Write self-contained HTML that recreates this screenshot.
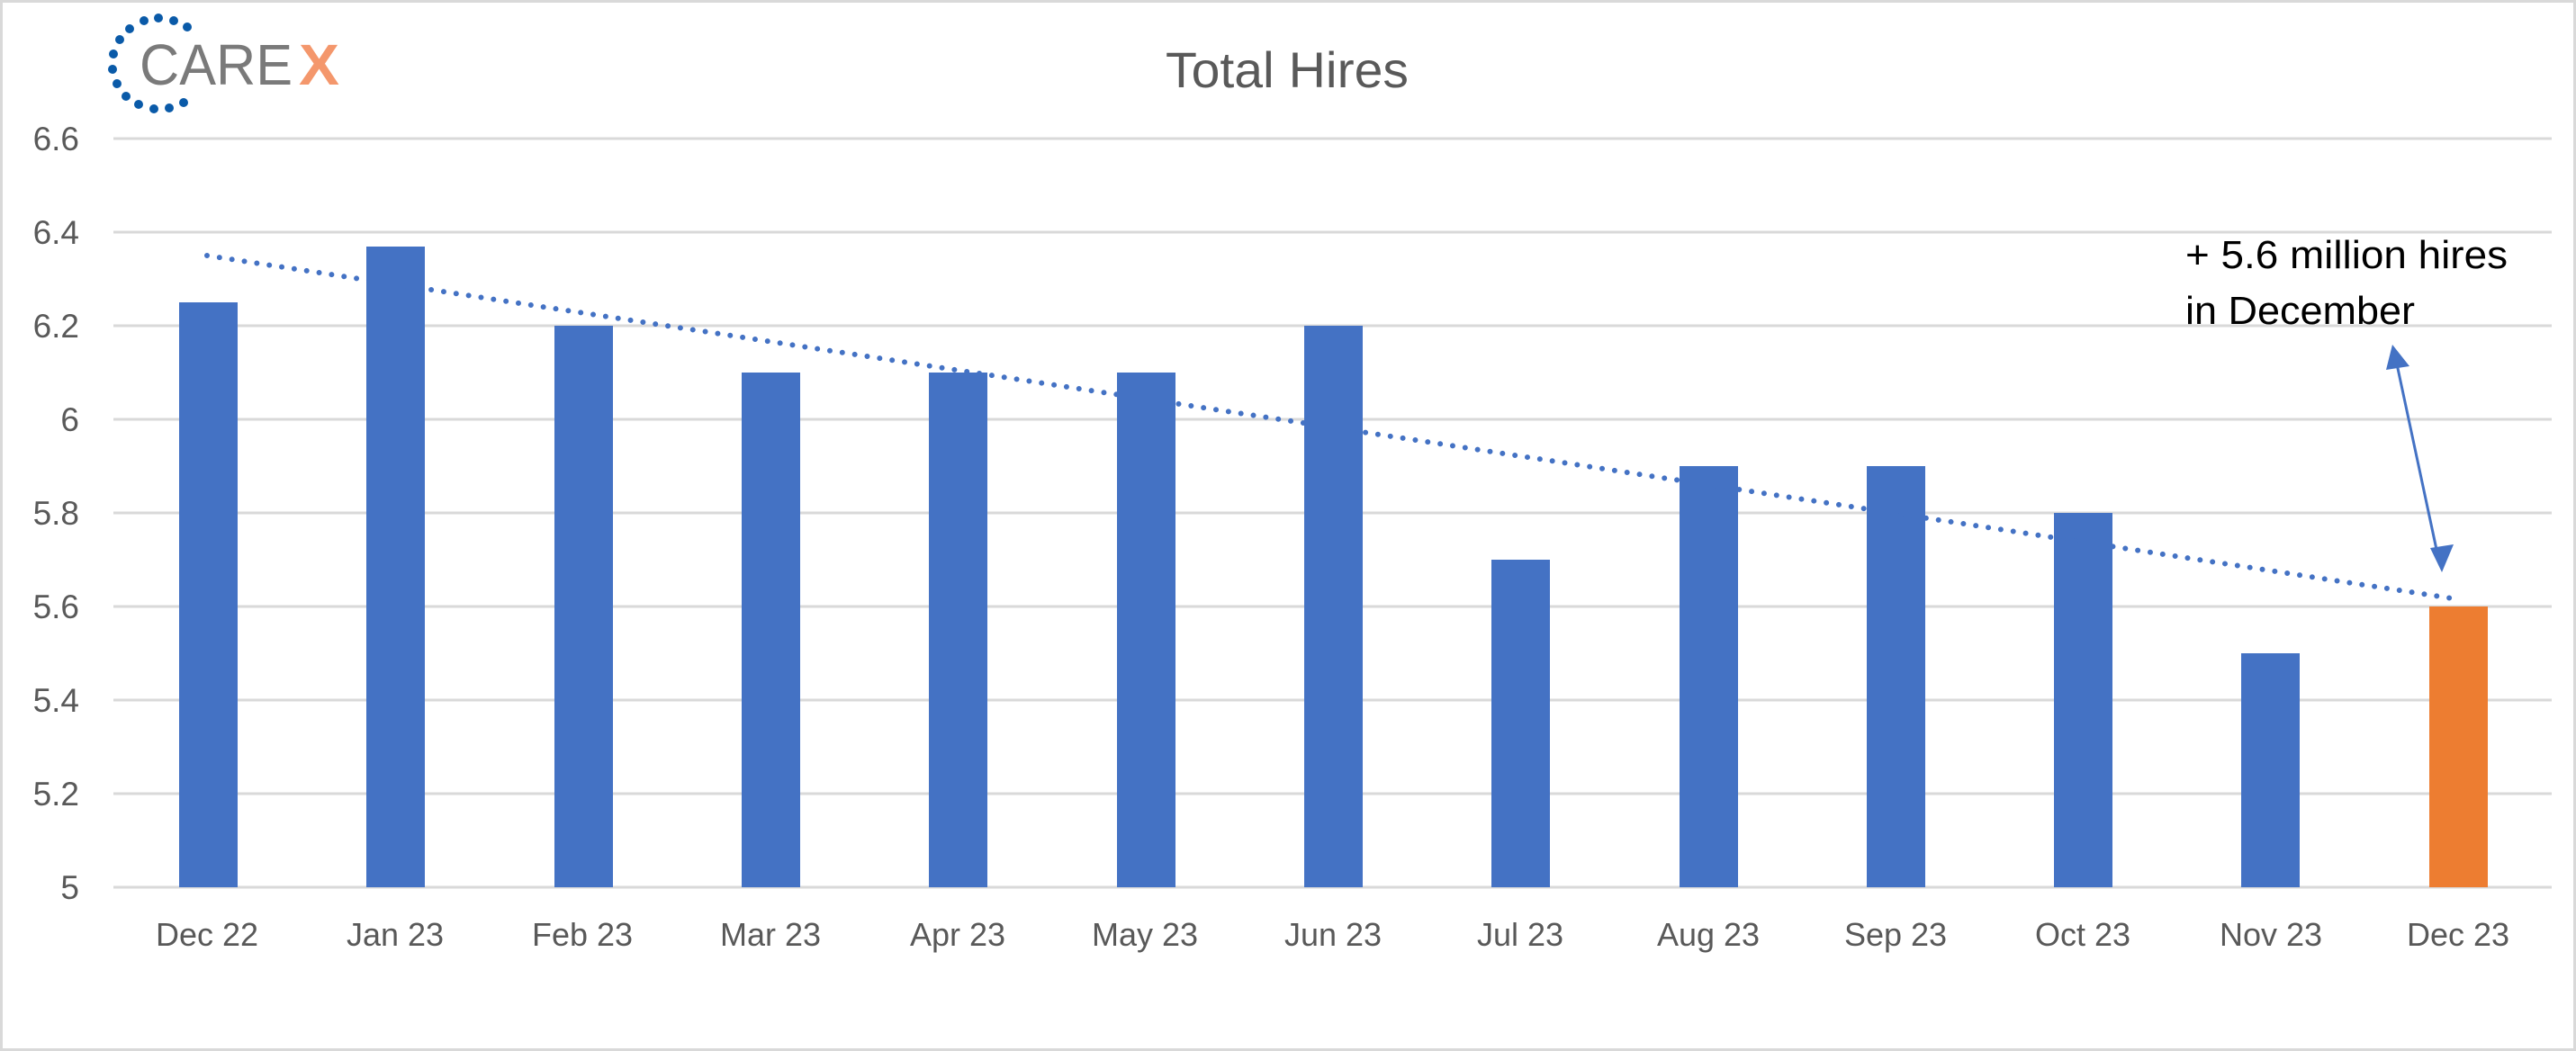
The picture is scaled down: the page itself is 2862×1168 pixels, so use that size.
<!DOCTYPE html>
<html><head><meta charset="utf-8"><style>
html,body{margin:0;padding:0;background:#fff}
svg{display:block}
text{font-family:"Liberation Sans",sans-serif}
</style></head><body>
<svg width="2862" height="1168" viewBox="0 0 2862 1168" xmlns="http://www.w3.org/2000/svg">
<rect x="1.5" y="1.5" width="2859" height="1165" fill="#fff" stroke="#d9d9d9" stroke-width="3"/>
<!-- logo -->
<g fill="#0a5aa8">
<circle cx="176" cy="20" r="5"/><circle cx="193" cy="23" r="5"/><circle cx="208" cy="30" r="5"/>
<circle cx="160" cy="23" r="5"/><circle cx="144" cy="32" r="5"/><circle cx="133" cy="44" r="5"/>
<circle cx="126" cy="60" r="5"/><circle cx="125" cy="77" r="5"/><circle cx="130" cy="93" r="5"/>
<circle cx="140" cy="107" r="5"/><circle cx="154" cy="116" r="5"/><circle cx="171" cy="121" r="5"/>
<circle cx="188" cy="120" r="5"/><circle cx="204" cy="114" r="5"/>
</g>
<text x="155" y="94" font-size="64" fill="#7a7a7a" textLength="170" lengthAdjust="spacingAndGlyphs">CARE</text>
<text x="332" y="94" font-size="64" fill="#f4976c" font-weight="bold" textLength="45" lengthAdjust="spacingAndGlyphs">X</text>
<!-- title -->
<text x="1295" y="97" font-size="56" fill="#595959" textLength="270" lengthAdjust="spacingAndGlyphs">Total Hires</text>
<!-- gridlines -->
<g stroke="#d9d9d9" stroke-width="3">
<line x1="126" x2="2835" y1="154" y2="154"/><line x1="126" x2="2835" y1="258" y2="258"/>
<line x1="126" x2="2835" y1="362" y2="362"/><line x1="126" x2="2835" y1="466" y2="466"/>
<line x1="126" x2="2835" y1="570" y2="570"/><line x1="126" x2="2835" y1="674" y2="674"/>
<line x1="126" x2="2835" y1="778" y2="778"/><line x1="126" x2="2835" y1="882" y2="882"/>
<line x1="126" x2="2835" y1="986" y2="986"/>
</g>
<g font-size="37" fill="#595959" text-anchor="end">
<text x="88" y="167">6.6</text><text x="88" y="271">6.4</text><text x="88" y="375">6.2</text>
<text x="88" y="479">6</text><text x="88" y="583">5.8</text><text x="88" y="687">5.6</text>
<text x="88" y="791">5.4</text><text x="88" y="895">5.2</text><text x="88" y="999">5</text>
</g>
<g fill="#4472c4">
<rect x="199" y="336" width="65" height="650"/>
<rect x="407" y="274" width="65" height="712"/>
<rect x="616" y="362" width="65" height="624"/>
<rect x="824" y="414" width="65" height="572"/>
<rect x="1032" y="414" width="65" height="572"/>
<rect x="1241" y="414" width="65" height="572"/>
<rect x="1449" y="362" width="65" height="624"/>
<rect x="1657" y="622" width="65" height="364"/>
<rect x="1866" y="518" width="65" height="468"/>
<rect x="2074" y="518" width="65" height="468"/>
<rect x="2282" y="570" width="65" height="416"/>
<rect x="2490" y="726" width="65" height="260"/>
</g>
<rect x="2699" y="674" width="65" height="312" fill="#ed7d31"/>
<line x1="230" y1="284" x2="2731" y2="666" stroke="#4472c4" stroke-width="6" stroke-linecap="round" stroke-dasharray="0 14"/>
<g font-size="36" fill="#595959" text-anchor="middle">
<text x="230" y="1051">Dec 22</text><text x="439" y="1051">Jan 23</text><text x="647" y="1051">Feb 23</text>
<text x="856" y="1051">Mar 23</text><text x="1064" y="1051">Apr 23</text><text x="1272" y="1051">May 23</text>
<text x="1481" y="1051">Jun 23</text><text x="1689" y="1051">Jul 23</text><text x="1898" y="1051">Aug 23</text>
<text x="2106" y="1051">Sep 23</text><text x="2314" y="1051">Oct 23</text><text x="2523" y="1051">Nov 23</text>
<text x="2731" y="1051">Dec 23</text>
</g>
<g font-size="44" fill="#000">
<text x="2428" y="298" textLength="358" lengthAdjust="spacingAndGlyphs">+ 5.6 million hires</text>
<text x="2428" y="360" textLength="255" lengthAdjust="spacingAndGlyphs">in December</text>
</g>
<line x1="2662" y1="400" x2="2709" y2="620" stroke="#4472c4" stroke-width="3"/>
<polygon points="2658,383 2651,411 2677,407" fill="#4472c4"/>
<polygon points="2713,636 2700,609 2726,605" fill="#4472c4"/>
</svg>
</body></html>
